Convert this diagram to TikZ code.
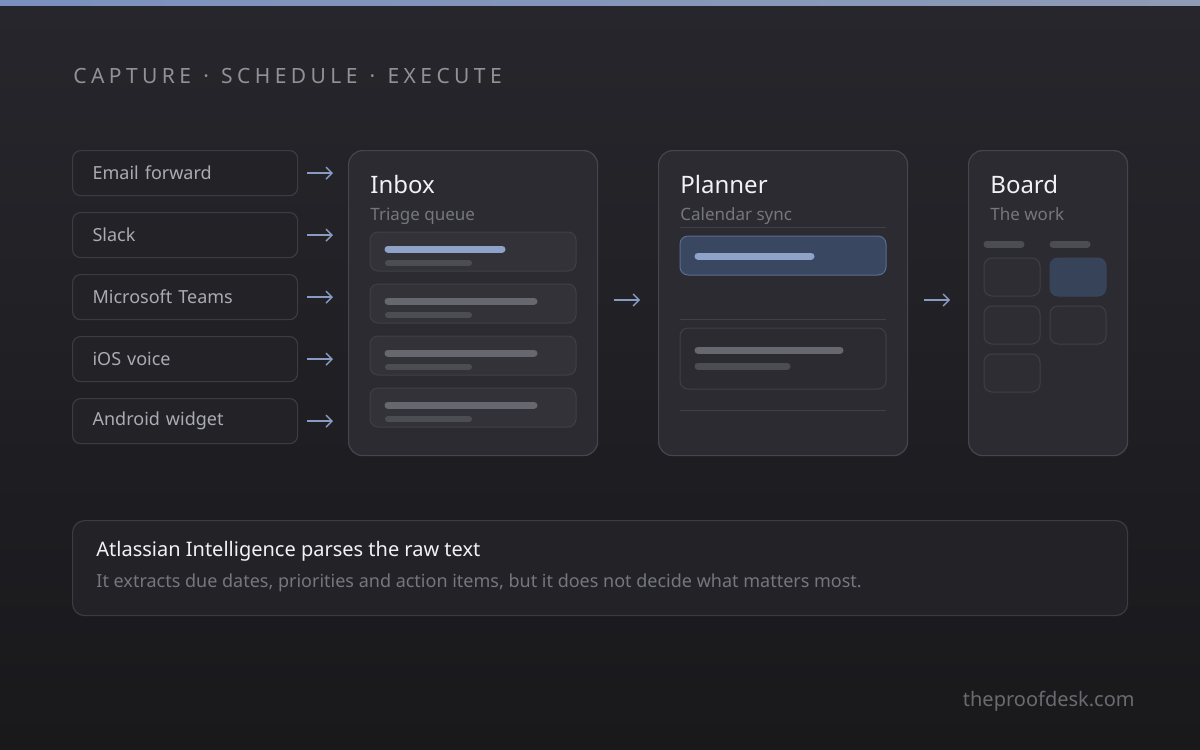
\documentclass[tikz,border=0pt]{standalone}
\usepackage{fontspec}
\setmainfont{Noto Sans}
\newfontfamily\spacedfont[LetterSpace=21]{Noto Sans}
\usetikzlibrary{positioning,arrows.meta}
\definecolor{bgtop}{HTML}{26262C}
\definecolor{bgbot}{HTML}{19191C}
\definecolor{stripeL}{HTML}{7A90BD}
\definecolor{stripeR}{HTML}{8E9BB6}
\definecolor{srcfill}{HTML}{222227}
\definecolor{srcline}{HTML}{3B3B42}
\definecolor{panelfill}{HTML}{2B2B31}
\definecolor{panelline}{HTML}{45454C}
\definecolor{cardfill}{HTML}{323238}
\definecolor{cardline}{HTML}{3F3F46}
\definecolor{barmain}{HTML}{67676F}
\definecolor{barsub}{HTML}{4C4C53}
\definecolor{accent}{HTML}{8FA3C9}
\definecolor{hlfill}{HTML}{394760}
\definecolor{hlline}{HTML}{5A6D8E}
\definecolor{arrowc}{HTML}{8A9BC3}
\definecolor{txtlight}{HTML}{ABABB3}
\definecolor{txtdim}{HTML}{76767E}
\definecolor{txtwhite}{HTML}{F2F2F5}
\begin{document}
\begin{tikzpicture}[x=0.5pt,y=-0.5pt,
    srcbox/.style={draw=srcline,fill=srcfill,rounded corners=4pt,line width=0.6pt,
      minimum width=112.5pt,minimum height=22.5pt,anchor=north west,
      text=txtlight,font=\fontsize{9}{11}\selectfont,align=left,text width=92.5pt,inner xsep=10pt},
    panel/.style={draw=panelline,fill=panelfill,rounded corners=7pt,line width=0.6pt,
      minimum height=152.5pt,anchor=north west,inner sep=0pt},
    card/.style={draw=cardline,fill=cardfill,rounded corners=4pt,line width=0.5pt},
    hlcard/.style={draw=hlline,fill=hlfill,rounded corners=4pt,line width=0.5pt},
    bar/.style={line cap=round,line width=3.5pt},
    divider/.style={draw=cardline,line width=0.5pt},
    flow/.style={-{Straight Barb[length=3pt,width=6pt]},draw=arrowc,line width=0.7pt},
    title/.style={anchor=base west,text=txtwhite,font=\fontsize{12}{14}\selectfont,inner sep=0pt},
    subtitle/.style={anchor=base west,text=txtdim,font=\fontsize{8.5}{10}\selectfont,inner sep=0pt}]
  % background and top stripe
  \shade[top color=bgtop,bottom color=bgbot] (0,0) rectangle (1200,750);
  \shade[left color=stripeL,right color=stripeR] (0,0) rectangle (1200,5);
  \useasboundingbox (0,0) rectangle (1200,750);
  % header
  \node[anchor=west,inner sep=0pt,text=txtlight!85!black,font=\spacedfont\fontsize{10.5}{12}\selectfont]
    (head) at (73,76) {CAPTURE\hspace{1.2pt} · \hspace{1.2pt}SCHEDULE\hspace{1.2pt} · \hspace{1.2pt}EXECUTE};
  % panels
  \node[panel,minimum width=124.5pt] (inbox) at (348,150) {};
  \node[panel,minimum width=124.5pt] (planner) at (658,150) {};
  \node[panel,minimum width=79.5pt] (board) at (968,150) {};
  % capture sources
  \foreach \name/\lbl [count=\i from 0] in {email/Email forward,slack/Slack,teams/Microsoft Teams,ios/iOS voice,android/Android widget}{
    \node[srcbox] (\name) at (72,150+62*\i) {\lbl};
    \draw[flow] ([xshift=4.5pt]\name.east) -- ([xshift=-7.5pt]inbox.west |- \name.east);
  }
  % inbox
  \node[title] (inboxT) at (370,193) {Inbox};
  \node[subtitle] (inboxS) at (370,220) {Triage queue};
  \foreach \y/\len [count=\i] in {232/502,284/534,336/534,388/534}{
    \draw[card] (370,\y) rectangle (576,\y+39);
    \ifnum\i=1
      \draw[bar,accent] (388,\y+17) -- (\len,\y+17);
    \else
      \draw[bar,barmain] (388,\y+17) -- (\len,\y+17);
    \fi
    \draw[bar,barsub,line width=3pt] (388,\y+31) -- (469,\y+31);
  }
  % planner
  \node[title] (plannerT) at (680,193) {Planner};
  \node[subtitle] (plannerS) at (680,220) {Calendar sync};
  \draw[divider] (680,227) -- (886,227);
  \draw[hlcard] (680,236) rectangle (886,275);
  \draw[bar,accent] (698,256) -- (811,256);
  \draw[divider] (680,319) -- (886,319);
  \draw[card,fill=panelfill] (680,328) rectangle (886,389);
  \draw[bar,barmain] (698,350) -- (840,350);
  \draw[bar,barsub] (698,366) -- (787,366);
  \draw[divider] (680,410) -- (886,410);
  % board
  \node[title] (boardT) at (990,193) {Board};
  \node[subtitle] (boardS) at (990,220) {The work};
  \draw[bar,barsub,line width=3.5pt] (987,244) -- (1021,244);
  \draw[bar,barsub,line width=3.5pt] (1053,244) -- (1087,244);
  \foreach \cx/\cy in {984/258,984/306,1050/306,984/354}{
    \draw[card,fill=panelfill!70!cardfill] (\cx,\cy) rectangle (\cx+56,\cy+38);
  }
  \draw[card,draw=hlfill!80!cardline,fill=hlfill!85!panelfill] (1050,258) rectangle (1106,296);
  % stage arrows
  \draw[flow] ([xshift=8pt]inbox.east |- 0,300) -- ([xshift=-9pt]planner.west |- 0,300);
  \draw[flow] ([xshift=8pt]planner.east |- 0,300) -- ([xshift=-9pt]board.west |- 0,300);
  % note
  \node[draw=srcline,fill=srcfill,rounded corners=6pt,line width=0.6pt,anchor=north west,
    minimum width=527.5pt,minimum height=47.5pt,inner sep=0pt] (note) at (72,520) {};
  \node[anchor=west,inner sep=0pt,text=txtwhite,font=\fontsize{10}{12}\selectfont]
    (noteT) at (96,551) {Atlassian Intelligence parses the raw text};
  \node[anchor=west,inner sep=0pt,text=txtdim,font=\fontsize{9}{11}\selectfont]
    (noteB) at (96,583) {It extracts due dates, priorities and action items, but it does not decide what matters most.};
  % footer
  \node[anchor=east,inner sep=0pt,text=txtdim!90!black,font=\fontsize{10}{12}\selectfont]
    (site) at (1135,701) {theproofdesk.com};
\end{tikzpicture}
\end{document}
